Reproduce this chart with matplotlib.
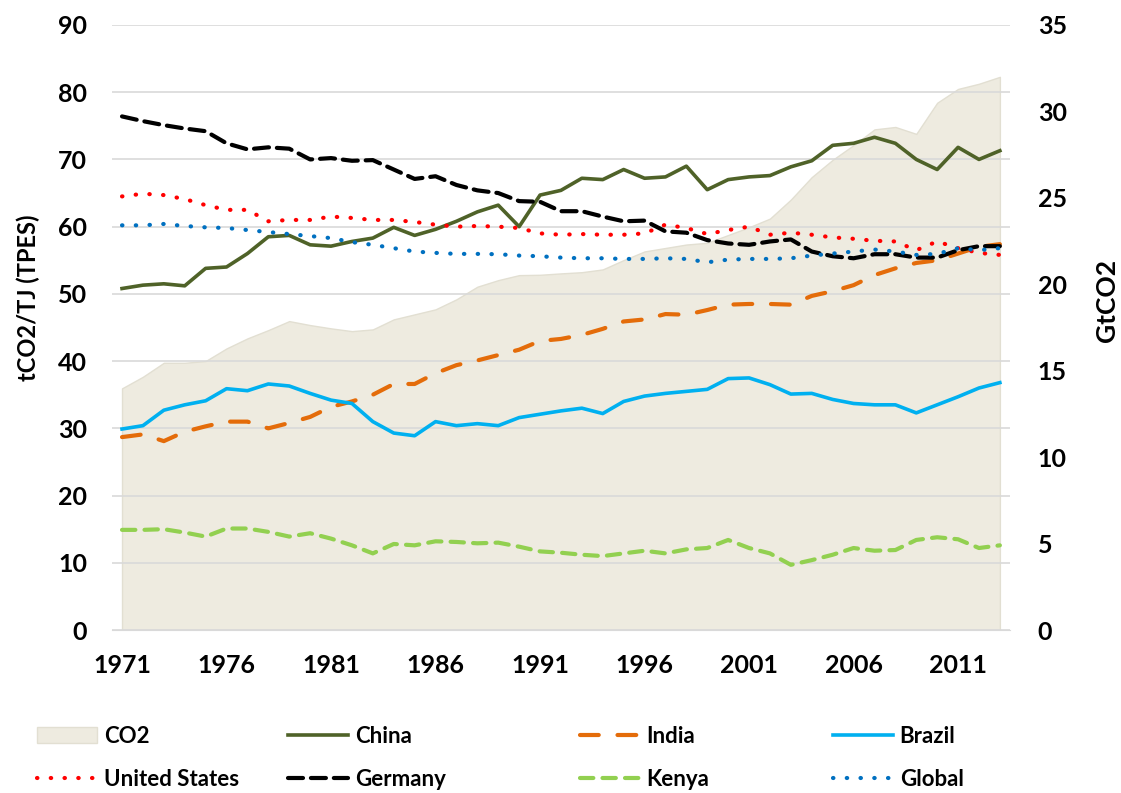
import numpy as np
import matplotlib
matplotlib.use('Agg')
import matplotlib.pyplot as plt

plt.rcParams['font.family'] = ['Lato', 'DejaVu Sans']

years = list(range(1971, 2014))

co2 = [13.98, 14.65, 15.46, 15.46, 15.56, 16.29, 16.87, 17.35, 17.87, 17.64,
       17.45, 17.29, 17.39, 17.97, 18.26, 18.55, 19.13, 19.86, 20.24, 20.53,
       20.55, 20.63, 20.70, 20.86, 21.40, 21.90, 22.10, 22.30, 22.40, 22.85,
       23.30, 23.80, 24.90, 26.20, 27.20, 28.05, 28.96, 29.10, 28.70, 30.50,
       31.30, 31.60, 32.00]

china = [50.8, 51.3, 51.5, 51.2, 53.8, 54.0, 56.0, 58.5, 58.7, 57.3,
         57.1, 57.8, 58.3, 59.9, 58.7, 59.6, 60.8, 62.2, 63.2, 60.0,
         64.7, 65.4, 67.2, 67.0, 68.5, 67.2, 67.4, 69.0, 65.5, 67.0,
         67.4, 67.6, 68.9, 69.8, 72.1, 72.4, 73.3, 72.4, 70.0, 68.5,
         71.8, 70.0, 71.3]

india = [28.7, 29.1, 28.1, 29.5, 30.3, 31.0, 31.0, 30.0, 30.8, 31.7,
         33.2, 34.0, 35.0, 36.6, 36.6, 38.2, 39.4, 40.1, 40.9, 41.7,
         43.0, 43.3, 43.9, 44.8, 45.9, 46.2, 47.0, 46.9, 47.6, 48.4,
         48.5, 48.5, 48.4, 49.7, 50.4, 51.3, 52.8, 53.8, 54.6, 55.0,
         56.0, 57.0, 57.4]

brazil = [29.9, 30.4, 32.7, 33.5, 34.1, 35.9, 35.6, 36.6, 36.3, 35.2,
          34.2, 33.7, 31.0, 29.3, 28.9, 31.0, 30.4, 30.7, 30.4, 31.6,
          32.1, 32.6, 33.0, 32.2, 34.0, 34.8, 35.2, 35.5, 35.8, 37.4,
          37.5, 36.5, 35.1, 35.2, 34.3, 33.7, 33.5, 33.5, 32.3, 33.5,
          34.7, 36.0, 36.8]

united_states = [64.5, 64.9, 64.7, 64.1, 63.2, 62.5, 62.5, 60.8, 61.0, 61.0,
                 61.5, 61.3, 61.0, 61.0, 60.7, 60.3, 60.0, 60.1, 60.0, 59.8,
                 59.0, 58.8, 58.9, 58.8, 58.8, 59.0, 60.3, 59.8, 58.9, 59.5,
                 60.0, 58.8, 59.1, 58.8, 58.4, 58.2, 57.9, 57.8, 56.5, 57.8,
                 56.8, 56.1, 55.8]

germany = [76.4, 75.7, 75.1, 74.6, 74.2, 72.4, 71.5, 71.8, 71.6, 70.0,
           70.2, 69.8, 69.9, 68.5, 67.1, 67.5, 66.2, 65.4, 65.0, 63.8,
           63.7, 62.3, 62.3, 61.5, 60.8, 60.9, 59.3, 59.1, 58.0, 57.5,
           57.3, 57.8, 58.1, 56.3, 55.6, 55.3, 55.9, 55.9, 55.4, 55.4,
           56.5, 57.1, 57.1]

kenya = [14.9, 14.9, 15.0, 14.5, 13.9, 15.1, 15.1, 14.6, 13.9, 14.4,
         13.6, 12.6, 11.4, 12.8, 12.6, 13.2, 13.1, 12.9, 13.0, 12.4,
         11.7, 11.5, 11.2, 11.0, 11.4, 11.8, 11.4, 12.0, 12.2, 13.4,
         12.2, 11.4, 9.7, 10.4, 11.2, 12.2, 11.8, 11.9, 13.4, 13.8,
         13.5, 12.2, 12.6]

global_ = [60.2, 60.2, 60.4, 60.1, 59.9, 59.8, 59.5, 59.2, 58.9, 58.6,
           58.3, 57.7, 57.3, 56.8, 56.3, 56.1, 55.95, 55.95, 55.9, 55.7,
           55.6, 55.4, 55.3, 55.3, 55.2, 55.2, 55.3, 55.2, 54.7, 55.1,
           55.2, 55.2, 55.3, 55.7, 56.0, 56.3, 56.6, 56.3, 55.8, 55.95,
           56.8, 56.5, 56.8]

fig = plt.figure(figsize=(11.21, 7.93), dpi=100)
ax = fig.add_axes([0.0999, 0.2055, 0.801, 0.763])
ax2 = ax.twinx()

# CO2 area on the right axis, behind the lines
ax2.fill_between(years, co2, 0, color='#EEEBE0', edgecolor='#E2DFD2', lw=1, zorder=1)
ax2.set_ylim(0, 35)
ax2.set_yticks(range(0, 36, 5))
ax.set_zorder(ax2.get_zorder() + 1)
ax.patch.set_visible(False)

lw = 3.0
ax.plot(years, china, color='#4F6228', lw=2.6, solid_joinstyle='round')
ax.plot(years, india, color='#E46C0A', lw=lw, dashes=(4.5, 4.5), dash_capstyle='round')
ax.plot(years, brazil, color='#00B0F0', lw=2.6, solid_joinstyle='round')
ax.plot(years, united_states, color='#FF0000', lw=lw, dashes=(0.1, 3.2), dash_capstyle='round')
ax.plot(years, germany, color='black', lw=lw, dashes=(3.6, 1.9), dash_capstyle='round')
ax.plot(years, kenya, color='#92D050', lw=lw, dashes=(3.2, 2.2), dash_capstyle='round')
ax.plot(years, global_, color='#0070C0', lw=lw, dashes=(0.1, 3.2), dash_capstyle='round')

ax.set_ylim(0, 90)
ax.set_yticks(range(0, 91, 10))
ax.set_xlim(1971 - 0.48, 2013 + 0.48)
ax.set_xticks(range(1971, 2014, 5))
ax.yaxis.grid(True, color='#D9D9D9', lw=1.2)
ax2.yaxis.grid(False)
ax.set_axisbelow(True)

for a in (ax, ax2):
    for s in a.spines.values():
        s.set_visible(False)
    a.tick_params(length=0, labelsize=18)
    for lab in a.get_xticklabels() + a.get_yticklabels():
        lab.set_fontweight('bold')
ax.spines['bottom'].set_visible(True)
ax.spines['bottom'].set_color('#D9D9D9')
ax.tick_params(axis='x', pad=17)
ax.tick_params(axis='y', pad=18)
for lab in ax2.get_yticklabels():
    lab.set_horizontalalignment('left')
ax2.tick_params(axis='y', pad=20)

ax.set_ylabel('tCO2/TJ (TPES)', fontsize=17, fontweight='bold')
ax.yaxis.set_label_coords(-0.08, 0.55)
ax2.set_ylabel('GtCO2', fontsize=19, fontweight='bold')
ax2.yaxis.set_label_coords(1.095, 0.545)

# legend: four columns of two entries, placed like the original
h_lines = ax.get_lines()
h_area = ax2.collections[0]
columns = [
    ([h_area, h_lines[3]], ['CO2', 'United States'], 37),
    ([h_lines[0], h_lines[4]], ['China', 'Germany'], 288),
    ([h_lines[1], h_lines[5]], ['India', 'Kenya'], 580),
    ([h_lines[2], h_lines[6]], ['Brazil', 'Global'], 833),
]
for hs, ls, x0 in columns:
    leg = fig.legend(hs, ls, loc='lower left', ncol=1,
                     bbox_to_anchor=(x0 / 1121, 0.004), frameon=False,
                     prop={'weight': 'bold', 'size': 16}, handlelength=2.7,
                     handletextpad=0.3, labelspacing=1.0,
                     borderaxespad=0, borderpad=0)

fig.savefig('out.png', dpi=100)
